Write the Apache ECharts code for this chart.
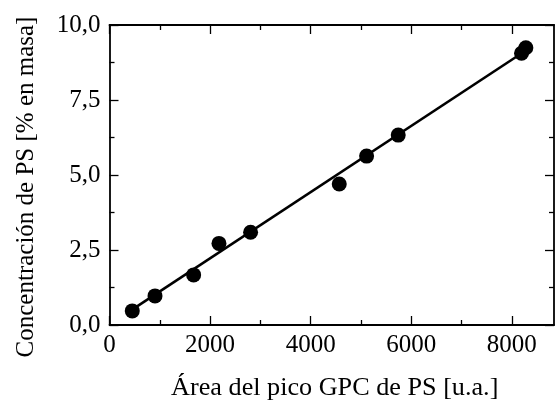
<!DOCTYPE html>
<html>
<head>
<meta charset="utf-8">
<script src="https://cdn.jsdelivr.net/npm/echarts@6/dist/echarts.min.js"></script>
<style>
  html, body { margin: 0; padding: 0; background: #fff; }
  #chart { width: 555px; height: 402px; }
</style>
</head>
<body>
<div id="chart"></div>
<script>
// Data
const xValues = [453, 905, 1673, 2177, 2806, 4569, 5113, 5742, 8194, 8280];
const yValues = [0.47, 0.97, 1.67, 2.72, 3.09, 4.70, 5.63, 6.33, 9.06, 9.24];
const fitX = [450, 8280];
const fitY = [0.51, 9.15];
const xMajorTicks = [0, 2000, 4000, 6000, 8000];
const xMinorTicks = [1000, 3000, 5000, 7000];
const yMajorTicks = [0, 2.5, 5, 7.5, 10];
const yMinorTicks = [1.25, 3.75, 6.25, 8.75];
const xTitle = 'Área del pico GPC de PS [u.a.]';
const yTitle = 'Concentración de PS [% en masa]';

const X_MIN = 0, X_MAX = 8840, Y_MIN = 0, Y_MAX = 10;
const FONT = '"Liberation Serif", "DejaVu Serif", serif';
const INK = '#000';
const lineStyle = { color: INK, width: 1.8 };

const gridPos = { left: 109.5, right: 1, top: 25, bottom: 77 };

function xAx(grid, pos, opts) {
  return Object.assign({
    type: 'value', gridIndex: grid, position: pos, min: X_MIN, max: X_MAX,
    splitLine: { show: false },
    axisLine: { show: false, onZero: false, lineStyle: lineStyle },
    axisLabel: { show: false },
    axisTick: { show: false }
  }, opts);
}
function yAx(grid, pos, opts) {
  return Object.assign({
    type: 'value', gridIndex: grid, position: pos, min: Y_MIN, max: Y_MAX,
    splitLine: { show: false },
    axisLine: { show: false, onZero: false, lineStyle: lineStyle },
    axisLabel: { show: false },
    axisTick: { show: false }
  }, opts);
}

const majorTick = (vals) => ({ show: true, inside: true, length: 9, customValues: vals, lineStyle: { color: INK, width: 1.3 } });
const minorTick = (vals) => ({ show: true, inside: true, length: 5, customValues: vals, lineStyle: { color: INK, width: 1.3 } });

const option = {
  backgroundColor: '#fff',
  animation: false,
  grid: [
    Object.assign({ containLabel: false, outerBoundsMode: 'none' }, gridPos),
    Object.assign({ containLabel: false, outerBoundsMode: 'none' }, gridPos)
  ],
  xAxis: [
    xAx(0, 'bottom', {
      axisLine: { show: true, onZero: false, lineStyle: lineStyle },
      axisTick: majorTick(xMajorTicks),
      axisLabel: {
        show: true, customValues: xMajorTicks, margin: 8, color: INK, fontFamily: FONT, fontSize: 25,
        formatter: (v) => String(v)
      },
      name: xTitle, nameLocation: 'middle', nameGap: 50,
      nameTextStyle: { color: INK, fontFamily: FONT, fontSize: 26.2, padding: [0, 0, 0, 6] }
    }),
    xAx(0, 'top', {
      axisLine: { show: true, onZero: false, lineStyle: lineStyle },
      axisTick: majorTick(xMajorTicks)
    }),
    xAx(1, 'bottom', { axisTick: minorTick(xMinorTicks) }),
    xAx(1, 'top', { axisTick: minorTick(xMinorTicks) })
  ],
  yAxis: [
    yAx(0, 'left', {
      axisLine: { show: true, onZero: false, lineStyle: lineStyle },
      axisTick: majorTick(yMajorTicks),
      axisLabel: {
        show: true, customValues: yMajorTicks, margin: 9, color: INK, fontFamily: FONT, fontSize: 25,
        formatter: (v) => v.toFixed(1).replace('.', ',')
      },
      name: yTitle, nameLocation: 'middle', nameGap: 71, nameRotate: 90,
      nameTextStyle: { color: INK, fontFamily: FONT, fontSize: 25, padding: [0, 24, 0, 0] }
    }),
    yAx(0, 'right', {
      axisLine: { show: true, onZero: false, lineStyle: lineStyle },
      axisTick: majorTick(yMajorTicks)
    }),
    yAx(1, 'left', { axisTick: minorTick(yMinorTicks) }),
    yAx(1, 'right', { axisTick: minorTick(yMinorTicks) })
  ],
  series: [
    {
      type: 'line', xAxisIndex: 0, yAxisIndex: 0,
      data: fitX.map((x, i) => [x, fitY[i]]),
      showSymbol: false, symbol: 'none',
      lineStyle: { color: INK, width: 2.6 },
      z: 2, silent: true
    },
    {
      type: 'scatter', xAxisIndex: 0, yAxisIndex: 0,
      data: xValues.map((x, i) => [x, yValues[i]]),
      symbol: 'circle', symbolSize: 15,
      itemStyle: { color: INK, opacity: 1 },
      z: 3
    }
  ]
};

const chart = echarts.init(document.getElementById('chart'), null, { renderer: 'canvas' });
chart.setOption(option);
</script>
</body>
</html>
